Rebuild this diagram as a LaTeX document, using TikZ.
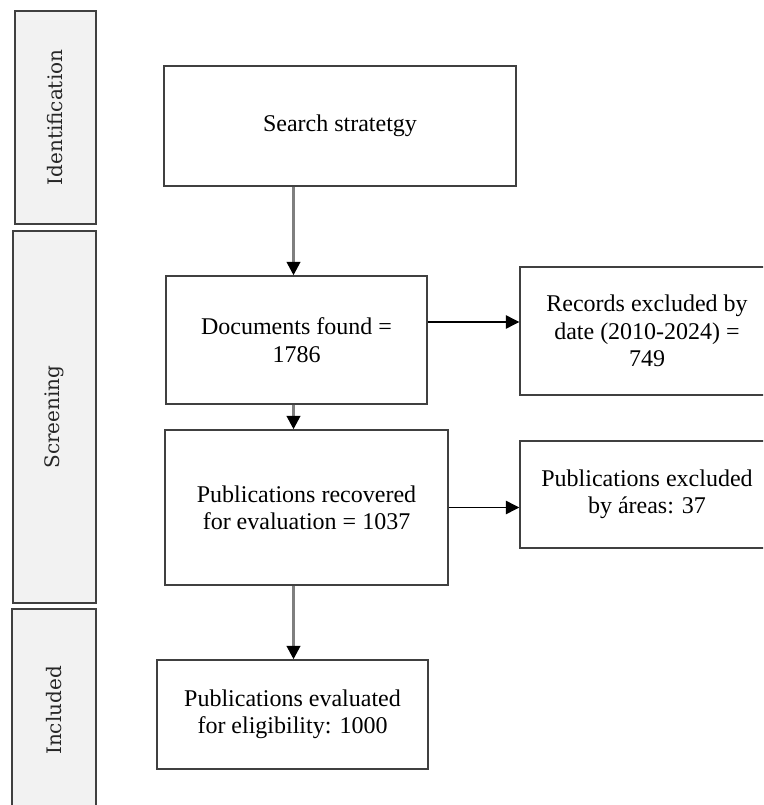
\documentclass[tikz,border=0pt]{standalone}
\usepackage{fontspec}
\setmainfont{Liberation Serif}
\newfontfamily\bandfont{DejaVu Serif}
\usetikzlibrary{arrows.meta}
\definecolor{bordergray}{HTML}{404040}
\definecolor{bandfill}{HTML}{F2F2F2}
\definecolor{shaftgray}{HTML}{7F7F7F}
\begin{document}
\begin{tikzpicture}[x=0.75pt,y=-0.75pt,
  box/.style={draw=bordergray,line width=1.1pt,fill=white,align=center,inner sep=0pt,
    font=\fontsize{18}{20.5}\selectfont},
  band/.style={draw=bordergray,line width=1.1pt,fill=bandfill,inner sep=0pt},
  bandtext/.style={rotate=90,font=\bandfont\fontsize{15}{18}\selectfont,text=black!85},
  varrow/.style={draw=shaftgray,line width=2pt,-{Triangle[length=10pt,width=10pt,color=black]}},
  harrow/.style={draw=black,line width=1pt,-{Triangle[length=10pt,width=10pt,color=black]}}]
\useasboundingbox (0,0) rectangle (763,805);
\begin{scope}
\clip (0,0) rectangle (763,805);
% phase bands
\node[band,minimum width=60.75pt,minimum height=159.75pt] (ident) at (55.5,117.5) {};
\node[bandtext] (identt) at (ident.center) {Identification};
\node[band,minimum width=62.25pt,minimum height=279pt] (screen) at (54.5,417) {};
\node[bandtext] (screent) at (screen.center) {Screening};
\node[band,minimum width=63pt,minimum height=152.25pt] (incl) at (54,710.5) {};
\node[bandtext] (inclt) at (incl.center) {Included};
% boxes
\node[box,minimum width=264pt,minimum height=90pt] (search) at (340,126) {Search stratetgy};
\node[box,minimum width=195.75pt,minimum height=96pt] (docs) at (296.5,340) {Documents found =\\1786};
\node[box,minimum width=190.5pt,minimum height=96pt] (records) at (647,331) {Records excluded by\\date (2010-2024) =\\749};
\node[box,minimum width=212.25pt,minimum height=116.25pt] (recov) at (306.5,507.5) {Publications recovered\\for evaluation = 1037};
\node[box,minimum width=190.5pt,minimum height=80.25pt] (excl) at (647,494.5) {Publications excluded\\by áreas: 37};
\node[box,minimum width=203.25pt,minimum height=81.75pt] (eval) at (292.5,714.5) {Publications evaluated\\for eligibility: 1000};
% connectors
\coordinate (ax) at (293.5,0);
\coordinate (h1) at (0,322);
\draw[varrow] (search.south -| ax) -- (docs.north -| ax);
\draw[varrow] (docs.south -| ax) -- (recov.north -| ax);
\draw[varrow] (recov.south -| ax) -- (eval.north -| ax);
\draw[harrow] (docs.east |- h1) -- (records.west |- h1);
\draw[harrow] (recov.east) -- (excl.west |- recov.east);
\end{scope}
\end{tikzpicture}
\end{document}
